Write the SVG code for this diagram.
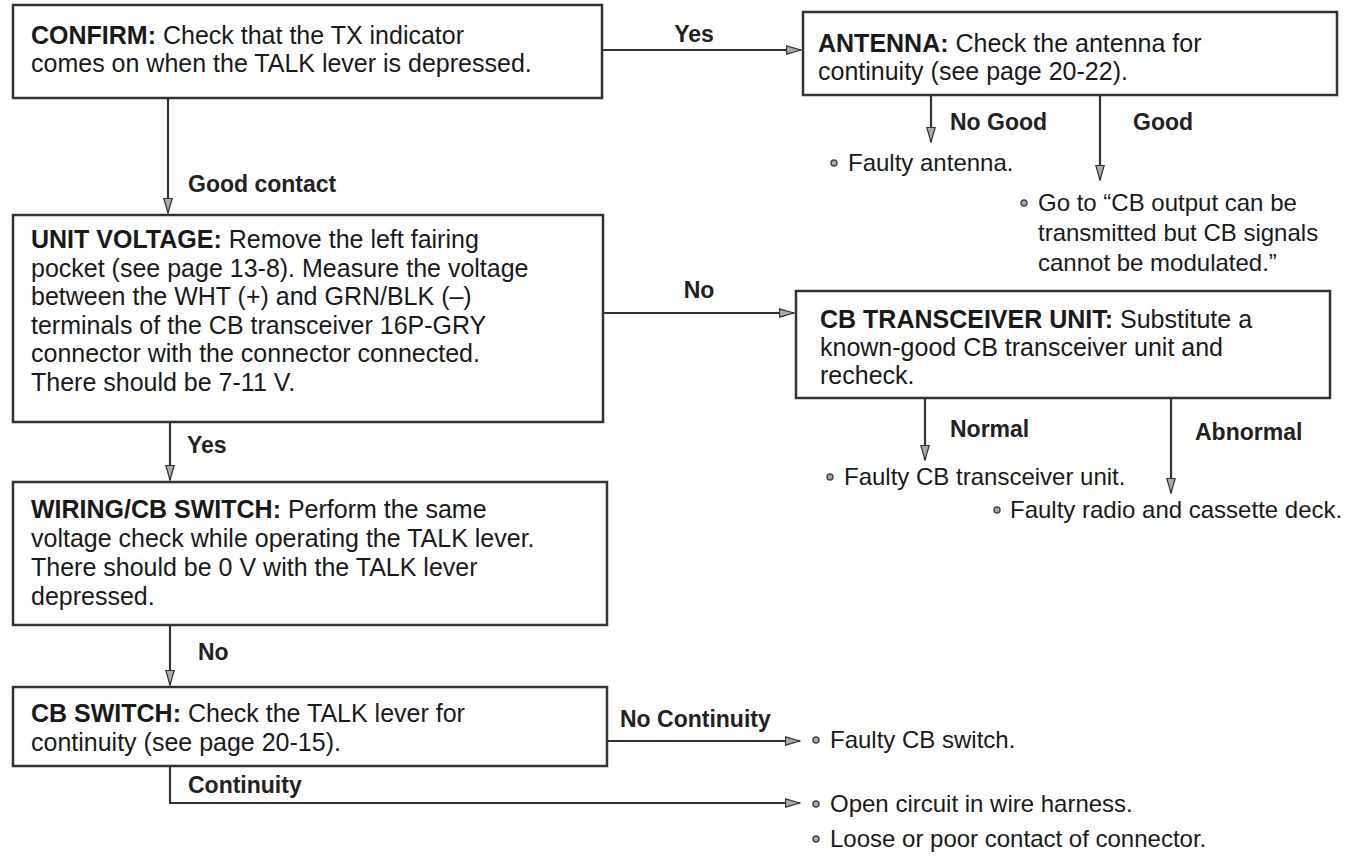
<svg xmlns="http://www.w3.org/2000/svg" width="1348" height="864" viewBox="0 0 1348 864">
<style>
.box{fill:#fff;stroke:#333;stroke-width:2.5}
.t{font-family:"Liberation Sans",Arial,sans-serif;font-size:25px;fill:#1a1a1a}
.b{font-weight:bold}
.lbl{font-family:"Liberation Sans",Arial,sans-serif;font-size:23px;font-weight:bold;fill:#222}
.r{font-family:"Liberation Sans",Arial,sans-serif;font-size:24px;fill:#1a1a1a}
.c{fill:none;stroke:#333;stroke-width:2.2}
.dot{fill:#aaa;stroke:#444;stroke-width:1.4}
</style>
<defs>
<marker id="ah" viewBox="0 0 16 10" refX="15" refY="5" markerWidth="16" markerHeight="10" orient="auto" markerUnits="userSpaceOnUse">
<path d="M0.5,0.8 L15,5 L0.5,9.2 Z" fill="#aaa" stroke="#333" stroke-width="1.2"/>
</marker>
</defs>
<rect width="1348" height="864" fill="#fff"/>

<g id="connectors">
<path class="c" d="M602,50 H801" marker-end="url(#ah)"/>
<path class="c" d="M931,95 V142" marker-end="url(#ah)"/>
<path class="c" d="M1100,95 V180" marker-end="url(#ah)"/>
<path class="c" d="M168,98 V213" marker-end="url(#ah)"/>
<path class="c" d="M603,313 H794" marker-end="url(#ah)"/>
<path class="c" d="M925,398 V460" marker-end="url(#ah)"/>
<path class="c" d="M1171,398 V493" marker-end="url(#ah)"/>
<path class="c" d="M170,422 V480" marker-end="url(#ah)"/>
<path class="c" d="M170,625 V685" marker-end="url(#ah)"/>
<path class="c" d="M607,741 H800" marker-end="url(#ah)"/>
<path class="c" d="M170,766 V803 H800" marker-end="url(#ah)"/>
<text class="lbl" x="694" y="42" text-anchor="middle">Yes</text>
<text class="lbl" x="950" y="130">No Good</text>
<text class="lbl" x="1133" y="130">Good</text>
<text class="lbl" x="188" y="192">Good contact</text>
<text class="lbl" x="699" y="298" text-anchor="middle">No</text>
<text class="lbl" x="950" y="437">Normal</text>
<text class="lbl" x="1195" y="440">Abnormal</text>
<text class="lbl" x="187" y="453">Yes</text>
<text class="lbl" x="198" y="660">No</text>
<text class="lbl" x="620" y="727">No Continuity</text>
<text class="lbl" x="188" y="793">Continuity</text>
</g>

<g id="confirm">
<rect class="box" x="13" y="5" width="589" height="93"/>
<text class="t" x="31" y="44"><tspan class="b">CONFIRM:</tspan> Check that the TX indicator</text>
<text class="t" x="31" y="72">comes on when the TALK lever is depressed.</text>
</g>

<g id="antenna">
<rect class="box" x="803" y="12" width="534" height="83"/>
<text class="t" x="818" y="52"><tspan class="b">ANTENNA:</tspan> Check the antenna for</text>
<text class="t" x="818" y="80">continuity (see page 20-22).</text>
</g>

<g id="faulty-antenna">
<circle class="dot" cx="834" cy="163" r="3"/>
<text class="r" x="848" y="171">Faulty antenna.</text>
</g>

<g id="goto">
<circle class="dot" cx="1024" cy="203" r="3"/>
<text class="r" x="1038" y="211">Go to “CB output can be</text>
<text class="r" x="1038" y="241">transmitted but CB signals</text>
<text class="r" x="1038" y="271">cannot be modulated.”</text>
</g>

<g id="unit-voltage">
<rect class="box" x="13" y="215" width="590" height="207"/>
<text class="t" x="31" y="248"><tspan class="b">UNIT VOLTAGE:</tspan> Remove the left fairing</text>
<text class="t" x="31" y="276.5">pocket (see page 13-8). Measure the voltage</text>
<text class="t" x="31" y="305">between the WHT (+) and GRN/BLK (–)</text>
<text class="t" x="31" y="333.5">terminals of the CB transceiver 16P-GRY</text>
<text class="t" x="31" y="362">connector with the connector connected.</text>
<text class="t" x="31" y="390.5">There should be 7-11 V.</text>
</g>

<g id="cb-transceiver">
<rect class="box" x="796" y="291" width="534" height="107"/>
<text class="t" x="820" y="328"><tspan class="b">CB TRANSCEIVER UNIT:</tspan> Substitute a</text>
<text class="t" x="820" y="356">known-good CB transceiver unit and</text>
<text class="t" x="820" y="384">recheck.</text>
</g>

<g id="faulty-cb-transceiver">
<circle class="dot" cx="830" cy="477" r="3"/>
<text class="r" x="844" y="485">Faulty CB transceiver unit.</text>
</g>

<g id="faulty-radio">
<circle class="dot" cx="997" cy="510" r="3"/>
<text class="r" x="1010" y="518">Faulty radio and cassette deck.</text>
</g>

<g id="wiring">
<rect class="box" x="13" y="482" width="594" height="143"/>
<text class="t" x="31" y="518"><tspan class="b">WIRING/CB SWITCH:</tspan> Perform the same</text>
<text class="t" x="31" y="547">voltage check while operating the TALK lever.</text>
<text class="t" x="31" y="576">There should be 0 V with the TALK lever</text>
<text class="t" x="31" y="605">depressed.</text>
</g>

<g id="cb-switch">
<rect class="box" x="13" y="687" width="594" height="79"/>
<text class="t" x="31" y="722"><tspan class="b">CB SWITCH:</tspan> Check the TALK lever for</text>
<text class="t" x="31" y="751">continuity (see page 20-15).</text>
</g>

<g id="faulty-cb-switch">
<circle class="dot" cx="816" cy="740" r="3"/>
<text class="r" x="830" y="748">Faulty CB switch.</text>
</g>

<g id="open-circuit">
<circle class="dot" cx="816" cy="804" r="3"/>
<text class="r" x="830" y="812">Open circuit in wire harness.</text>
<circle class="dot" cx="816" cy="839" r="3"/>
<text class="r" x="830" y="847">Loose or poor contact of connector.</text>
</g>
</svg>
